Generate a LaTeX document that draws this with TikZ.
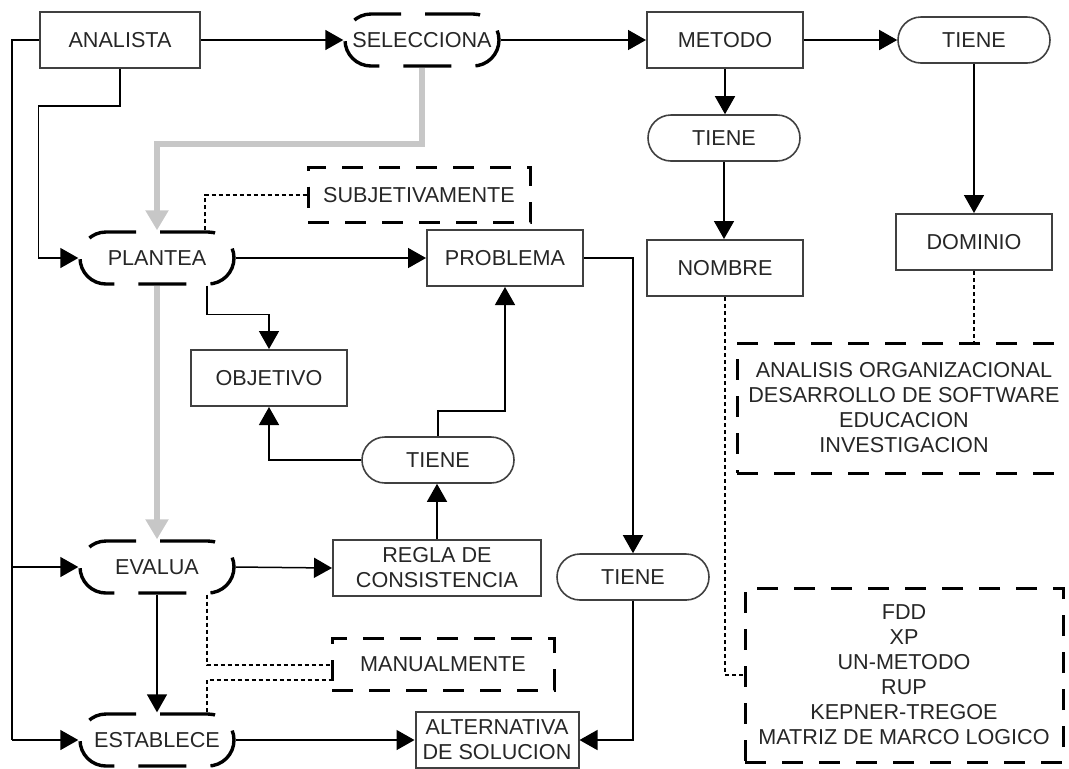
\documentclass[tikz,border=0pt]{standalone}
\usepackage{fontspec}
\setmainfont{Liberation Sans}
\usepackage{tikz}
\usetikzlibrary{
  arrows.meta,
  backgrounds,
}

\begin{document}
\begin{tikzpicture}[
  x=0.5pt, y=-0.5pt,
  font=\fontsize{10.8}{12.5}\selectfont,
  every node/.style={align=center, text=black!85},
  caja/.style={draw=black!75, line width=1pt,
               minimum width=78pt, minimum height=28pt, inner sep=0pt},
  tiene/.style={draw=black!75, line width=0.8pt, rounded corners=11.5pt,
                minimum width=76pt, minimum height=23pt, inner sep=0pt},
  accion/.style={draw=black, line width=1.7pt, rounded corners=13pt,
                 dash pattern=on 24pt off 12pt,
                 minimum width=77pt, minimum height=26pt, inner sep=0pt},
  nota/.style={draw=black, line width=1.5pt,
               dash pattern=on 10.5pt off 8pt, inner sep=0pt},
  linea/.style={black, line width=0.75pt},
  flecha/.style={linea, -{Triangle[length=9pt, width=10pt]}},
  gris/.style={line width=3pt, draw=black!22,
               -{Triangle[length=10pt, width=11pt]}},
  punteado/.style={black, line width=0.6pt, dash pattern=on 2pt off 1.5pt},
]

\useasboundingbox (0,0) rectangle (1069,768);

\node[caja, minimum width=80pt] (analista) at (120,40) {ANALISTA};
\node[accion] (selecciona) at (422,40) {SELECCIONA};
\node[caja] (metodo) at (725,40) {METODO};
\node[tiene] (tieneA) at (974,40) {TIENE};
\node[tiene] (tieneB) at (724,138) {TIENE};
\node[caja] (nombre) at (725,268) {NOMBRE};
\node[caja] (dominio) at (974,242) {DOMINIO};

\node[nota, minimum width=167pt, minimum height=65pt] (areas) at (904,408)
  {ANALISIS ORGANIZACIONAL\\DESARROLLO DE SOFTWARE\\EDUCACION\\INVESTIGACION};
\node[nota, minimum width=159pt, minimum height=87pt] (metodos) at (904,675)
  {FDD\\XP\\UN-METODO\\RUP\\KEPNER-TREGOE\\MATRIZ DE MARCO LOGICO};

\node[accion] (plantea) at (157,258) {PLANTEA};
\node[nota, minimum width=111pt, minimum height=27.5pt] (subjetivamente)
  at (419,195) {SUBJETIVAMENTE};
\node[caja] (problema) at (505,258) {PROBLEMA};
\node[caja] (objetivo) at (269,378) {OBJETIVO};
\node[tiene] (tieneC) at (438,460) {TIENE};

\node[accion] (evalua) at (157,567) {EVALUA};
\node[caja, minimum width=104pt] (regla) at (437,568) {REGLA DE\\CONSISTENCIA};
\node[tiene] (tieneD) at (633,577) {TIENE};
\node[nota, minimum width=111pt, minimum height=26pt] (manualmente)
  at (443,664) {MANUALMENTE};
\node[accion] (establece) at (157,740) {ESTABLECE};
\node[caja, minimum width=81.5pt] (alternativa) at (497,740)
  {ALTERNATIVA\\DE SOLUCION};

\coordinate (borde) at (12,40);

\begin{scope}[on background layer]
\draw[gris] (selecciona.south) -- ++(0,76) -| (plantea.north);
\draw[gris] (plantea.south) -- (evalua.north);
\end{scope}

\draw[linea] (analista.west) -- (borde) -- (borde |- establece.west);
\draw[flecha] (borde |- evalua.west) -- (evalua.west);
\draw[flecha] (borde |- establece.west) -- (establece.west);
\draw[flecha] (analista.south) -- ++(0,37) -| ([xshift=-20pt]plantea.west)
  -- (plantea.west);

\draw[flecha] (analista.east) -- (selecciona.west);
\draw[flecha] (selecciona.east) -- (metodo.west);
\draw[flecha] (metodo.east) -- (tieneA.west);
\draw[flecha] (tieneA.south) -- (dominio.north);
\draw[flecha] (metodo.south) -- (metodo.south |- tieneB.north);
\draw[flecha] (tieneB.south) -- (tieneB.south |- nombre.north);
\draw[punteado] (dominio.south) -- (dominio.south |- areas.north);
\draw[punteado] (nombre.south) |- (metodos.west);

\draw[flecha] (plantea.east) -- (problema.west);
\draw[punteado] ([xshift=24pt]plantea.north) |- (subjetivamente.west);
\draw[flecha] ([xshift=25pt]plantea.south) -- ++(0,29) -| (objetivo.north);
\draw[flecha] (tieneC.west) -| (objetivo.south);
\draw[flecha] (tieneC.north) -- ++(0,-25) -| (problema.south);
\draw[flecha] (regla.north) -- (regla.north |- tieneC.south);
\draw[flecha] (evalua.east) -- (regla.west);
\draw[flecha] (problema.east) -| (tieneD.north);
\draw[flecha] (tieneD.south) |- (alternativa.east);
\draw[flecha] (evalua.south) -- (establece.north);
\draw[flecha] (establece.east) -- (alternativa.west);
\draw[punteado] ([xshift=25pt]evalua.south) |- ([yshift=-0.5pt]manualmente.west);
\draw[punteado] ([xshift=25pt]establece.north) |- ([yshift=-8pt]manualmente.west);

\end{tikzpicture}
\end{document}
